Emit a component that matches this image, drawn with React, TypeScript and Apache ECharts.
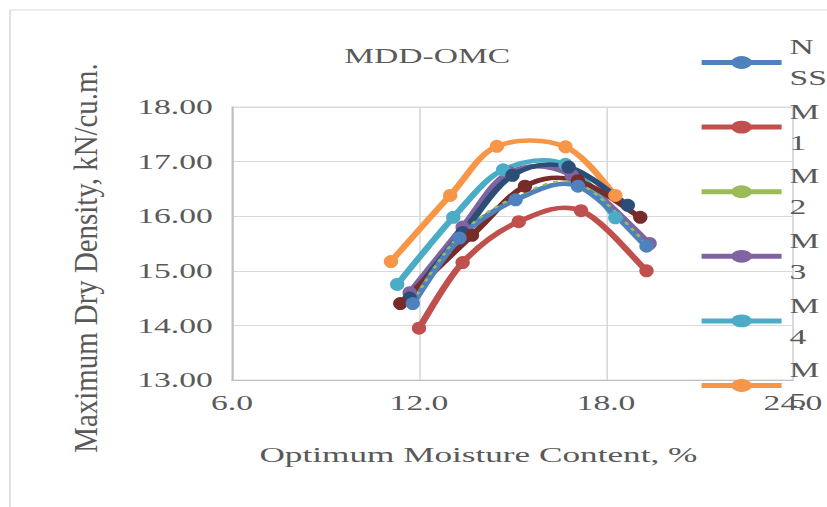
import React, { useEffect, useRef } from "react";
import * as echarts from "echarts";

const seriesNames = ["NSS", "M1", "M2", "M3", "M4", "M5", "M6", "M7"];
const seriesColors = ["#4F81BD", "#C0504D", "#9BBB59", "#8064A2", "#4BACC6", "#F79646", "#2C4D75", "#772C2A"];

const omcNSS = [11.8, 13.3, 15.1, 17.1, 19.3];
const mddNSS = [14.4, 15.6, 16.3, 16.55, 15.45];
const omcM1 = [12.0, 13.4, 15.2, 17.2, 19.3];
const mddM1 = [13.95, 15.15, 15.9, 16.1, 15.0];
const omcM2 = [11.8, 13.3, 15.1, 17.1, 19.3];
const mddM2 = [14.45, 15.65, 16.35, 16.6, 15.5];
const omcM3 = [11.7, 13.4, 14.9, 16.9, 19.4];
const mddM3 = [14.6, 15.8, 16.8, 16.75, 15.5];
const omcM4 = [11.3, 13.1, 14.7, 16.7, 18.3];
const mddM4 = [14.75, 15.98, 16.85, 16.95, 15.97];
const omcM5 = [11.1, 13.0, 14.5, 16.7, 18.3];
const mddM5 = [15.17, 16.38, 17.28, 17.27, 16.38];
const omcM6 = [11.7, 13.4, 15.0, 16.8, 18.7];
const mddM6 = [14.5, 15.7, 16.75, 16.9, 16.2];
const omcM7 = [11.4, 13.7, 15.4, 17.1, 19.1];
const mddM7 = [14.4, 15.65, 16.55, 16.65, 15.98];

const omcAll = [omcNSS, omcM1, omcM2, omcM3, omcM4, omcM5, omcM6, omcM7];
const mddAll = [mddNSS, mddM1, mddM2, mddM3, mddM4, mddM5, mddM6, mddM7];

const legendNames = ["NSS", "M1", "M2", "M3", "M4", "M5"];

const chartTitle = "MDD-OMC";
const xTitle = "Optimum Moisture Content, %";
const yTitle = "Maximum Dry Density, kN/cu.m.";

const FONT = "Liberation Serif";
const TEXT = "#595959";
const STRETCH = 1.6;
const W = 517;
const H = 507;

export default function App() {
  const ref = useRef<HTMLDivElement>(null);
  useEffect(() => {
    if (!ref.current) return;
    const chart = echarts.init(ref.current, undefined, { renderer: "svg" });
    const series: any[] = [];
    seriesNames.forEach((name, i) => {
      const xs = omcAll[i];
      const ys = mddAll[i];
      const data = xs.map((x, k) => [x, ys[k]]);
      const isGreen = name === "M2";
      const isNSS = name === "NSS";
      // smooth curve (Excel-like Catmull-Rom) through the points
      series.push({
        name: name + " curve",
        type: "custom",
        coordinateSystem: "cartesian2d",
        data,
        encode: { x: 0, y: 1 },
        silent: true,
        z: isNSS ? 1.5 : isGreen ? 1.8 : 1,
        renderItem: (params: any, api: any) => {
          const k = params.dataIndex;
          const n = xs.length;
          if (k >= n - 1) return null;
          const cl = (j: number) => Math.max(0, Math.min(n - 1, j));
          const P = (j: number) => api.coord([xs[cl(j)], ys[cl(j)]]);
          const p0 = P(k - 1);
          const p1 = P(k);
          const p2 = P(k + 1);
          const p3 = P(k + 2);
          const t = 1 / 6;
          return {
            type: "bezierCurve",
            shape: {
              x1: p1[0],
              y1: p1[1],
              x2: p2[0],
              y2: p2[1],
              cpx1: p1[0] + (p2[0] - p0[0]) * t,
              cpy1: p1[1] + (p2[1] - p0[1]) * t,
              cpx2: p2[0] - (p3[0] - p1[0]) * t,
              cpy2: p2[1] - (p3[1] - p1[1]) * t,
            },
            style: isGreen
              ? { stroke: seriesColors[i], lineWidth: 2, fill: "none", lineDash: [3, 4] }
              : { stroke: seriesColors[i], lineWidth: 4.5, fill: "none", lineCap: "round" },
          };
        },
      });
      // markers
      series.push({
        name,
        type: "line",
        data,
        z: isNSS ? 3 : 2,
        showSymbol: !isGreen,
        symbol: "circle",
        symbolSize: [9, 13],
        color: seriesColors[i],
        itemStyle: { color: seriesColors[i] },
        lineStyle: { color: seriesColors[i], width: 0, opacity: 0 },
      });
    });
    chart.setOption({
      animation: false,
      title: {
        text: chartTitle,
        left: 267,
        top: 45,
        padding: 0,
        textAlign: "center",
        textStyle: { fontFamily: FONT, fontSize: 21, fontWeight: "normal", color: TEXT },
      },
      grid: { left: 145, right: 20.5, top: 107, bottom: 127, show: true, borderColor: "#d9d9d9", borderWidth: 1 },
      xAxis: {
        type: "value",
        min: 6,
        max: 24,
        interval: 6,
        axisLine: { show: true, lineStyle: { color: "#bfbfbf", width: 1 } },
        axisTick: { show: false },
        splitLine: { show: true, lineStyle: { color: "#d9d9d9", width: 1 } },
        axisLabel: {
          margin: 12,
          fontFamily: FONT,
          fontSize: 21,
          color: TEXT,
          formatter: (v: number) => v.toFixed(1),
        },
      },
      yAxis: {
        type: "value",
        min: 13,
        max: 18,
        interval: 1,
        axisLine: { show: true, lineStyle: { color: "#bfbfbf", width: 1 } },
        axisTick: { show: false },
        splitLine: { show: true, lineStyle: { color: "#d9d9d9", width: 1 } },
        axisLabel: {
          margin: 12,
          fontFamily: FONT,
          fontSize: 21,
          color: TEXT,
          formatter: (v: number) => v.toFixed(2),
        },
      },
      legend: {
        orient: "vertical",
        left: 436,
        top: 16,
        padding: 0,
        itemWidth: 50,
        itemHeight: 16,
        itemGap: -28.4,
        data: legendNames,
        formatter: (n: string) => n[0] + "\n" + n.slice(1),
        lineStyle: { type: "solid", width: 5, opacity: 1 },
        textStyle: { fontFamily: FONT, fontSize: 21, color: TEXT, lineHeight: 31, padding: [31, 0, 0, 0] },
      },
      graphic: [
        {
          type: "rect",
          silent: true,
          shape: { x: 6.25, y: 10, width: 560, height: 560 },
          style: { fill: "none", stroke: "#d9d9d9", lineWidth: 1 },
        },
        {
          type: "text",
          x: 53.75,
          y: 258,
          rotation: Math.PI / 2,
          scaleX: 1.375,
          style: { text: yTitle, fontFamily: FONT, fontSize: 21, fill: TEXT, align: "center", verticalAlign: "middle" },
        },
        {
          type: "text",
          x: 299,
          y: 455,
          style: { text: xTitle, fontFamily: FONT, fontSize: 22, fill: TEXT, align: "center", verticalAlign: "middle" },
        },
      ],
      series,
    });
    return () => chart.dispose();
  }, []);
  return (
    <div
      ref={ref}
      style={{
        position: "fixed",
        left: 0,
        top: 0,
        width: W,
        height: H,
        transform: `scaleX(${STRETCH})`,
        transformOrigin: "0 0",
        background: "#fff",
      }}
    />
  );
}
